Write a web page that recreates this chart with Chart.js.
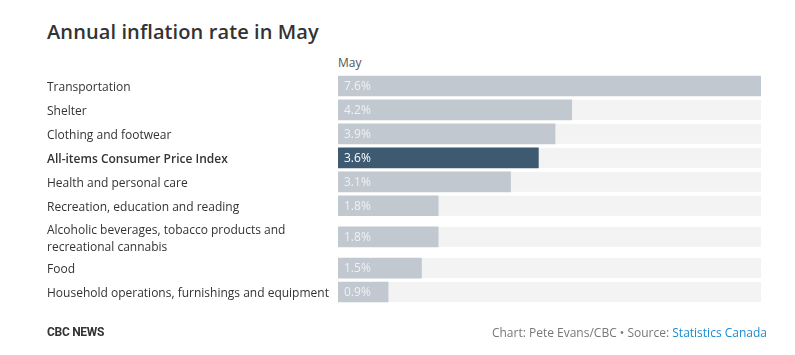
<!DOCTYPE html>
<html>
<head>
<meta charset="utf-8">
<script src="https://cdn.jsdelivr.net/npm/chart.js@4"></script>
<style>
  html, body { margin: 0; padding: 0; background: #fff; }
  body { width: 795px; height: 355px; position: relative; overflow: hidden; font-family: "Open Sans", sans-serif; }
  #title { position: absolute; left: 47px; top: 18px; font-size: 20px; font-weight: 600; color: #333; white-space: nowrap; letter-spacing: 0.1px; }
  #colhead { position: absolute; left: 338px; top: 54px; font-size: 12px; color: #555; }
  #wrap { position: absolute; left: 0; top: 0; width: 795px; height: 355px; }
  #brand { position: absolute; left: 47px; top: 325px; font-family: "Roboto", sans-serif; font-weight: 700; font-size: 12px; color: #333; letter-spacing: -0.3px; }
  #source { position: absolute; right: 28px; top: 324px; font-size: 12px; color: #777; white-space: nowrap; }
  #source a { color: #1a8dd0; text-decoration: none; }
</style>
</head>
<body>
<div id="title">Annual inflation rate in May</div>
<div id="colhead">May</div>
<div id="wrap"><canvas id="c" width="795" height="355"></canvas></div>
<div id="brand">CBC NEWS</div>
<div id="source">Chart: Pete Evans/CBC • Source: <a>Statistics Canada</a></div>
<script>
const categories = [
  "Transportation",
  "Shelter",
  "Clothing and footwear",
  "All-items Consumer Price Index",
  "Health and personal care",
  "Recreation, education and reading",
  ["Alcoholic beverages, tobacco products and", "recreational cannabis"],
  "Food",
  "Household operations, furnishings and equipment"
];
const mayValues = [7.6, 4.2, 3.9, 3.6, 3.1, 1.8, 1.8, 1.5, 0.9];
const highlightIndex = 3;

// Category scale whose rows grow with the number of label lines
class RowCategoryScale extends Chart.CategoryScale {
  getPixelForValue(value) {
    if (typeof value !== 'number') value = this.parse(value);
    if (value === null || isNaN(value)) return NaN;
    const labels = this.getLabels();
    const w = labels.map(l => Array.isArray(l) ? 1 + 0.6 * (l.length - 1) : 1);
    const total = w.reduce((a, b) => a + b, 0);
    let acc = 0;
    for (let j = 0; j < value; j++) acc += w[j];
    acc += w[value] / 2;
    return this.getPixelForDecimal(acc / total);
  }
}
RowCategoryScale.id = 'rowCategory';
RowCategoryScale.defaults = Chart.CategoryScale.defaults;
Chart.register(RowCategoryScale);

const trackPlugin = {
  id: 'track',
  beforeDatasetsDraw(chart) {
    const ctx = chart.ctx, area = chart.chartArea;
    const meta = chart.getDatasetMeta(0);
    ctx.save();
    ctx.fillStyle = '#f3f3f3';
    meta.data.forEach(bar => {
      const h = bar.height;
      ctx.fillRect(area.left, bar.y - h / 2, area.right - area.left, h);
    });
    ctx.restore();
  },
  afterDatasetsDraw(chart) {
    const ctx = chart.ctx;
    const meta = chart.getDatasetMeta(0);
    ctx.save();
    ctx.font = '12px "Open Sans", sans-serif';
    ctx.textBaseline = 'middle';
    ctx.textAlign = 'left';
    meta.data.forEach((bar, i) => {
      ctx.fillStyle = i === highlightIndex ? '#ffffff' : 'rgba(255,255,255,0.75)';
      ctx.fillText(mayValues[i].toFixed(1) + '%', bar.base + 6, bar.y + 1);
    });
    ctx.restore();
  }
};

new Chart(document.getElementById('c'), {
  type: 'bar',
  data: {
    labels: categories,
    datasets: [{
      data: mayValues,
      backgroundColor: mayValues.map((v, i) => i === highlightIndex ? '#3d5a70' : '#c1c8d0'),
      barThickness: 20,
      borderWidth: 0
    }]
  },
  options: {
    indexAxis: 'y',
    responsive: false,
    animation: false,
    layout: { padding: { left: 47, right: 34, top: 74, bottom: 51 } },
    plugins: { legend: { display: false }, tooltip: { enabled: false } },
    scales: {
      x: { display: false, min: 0, max: 7.6 },
      y: {
        type: 'rowCategory',
        grid: { display: false },
        border: { display: false },
        afterFit(scale) { scale.width = 291; },
        ticks: {
          autoSkip: false,
          crossAlign: 'far',
          color: '#333',
          padding: 0,
          labelOffset: 2,
          font: (c) => ({ family: '"Open Sans", sans-serif', size: 12, weight: c.index === highlightIndex ? '600' : 'normal', lineHeight: 1.4 })
        }
      }
    }
  },
  plugins: [trackPlugin]
});
</script>
</body>
</html>
